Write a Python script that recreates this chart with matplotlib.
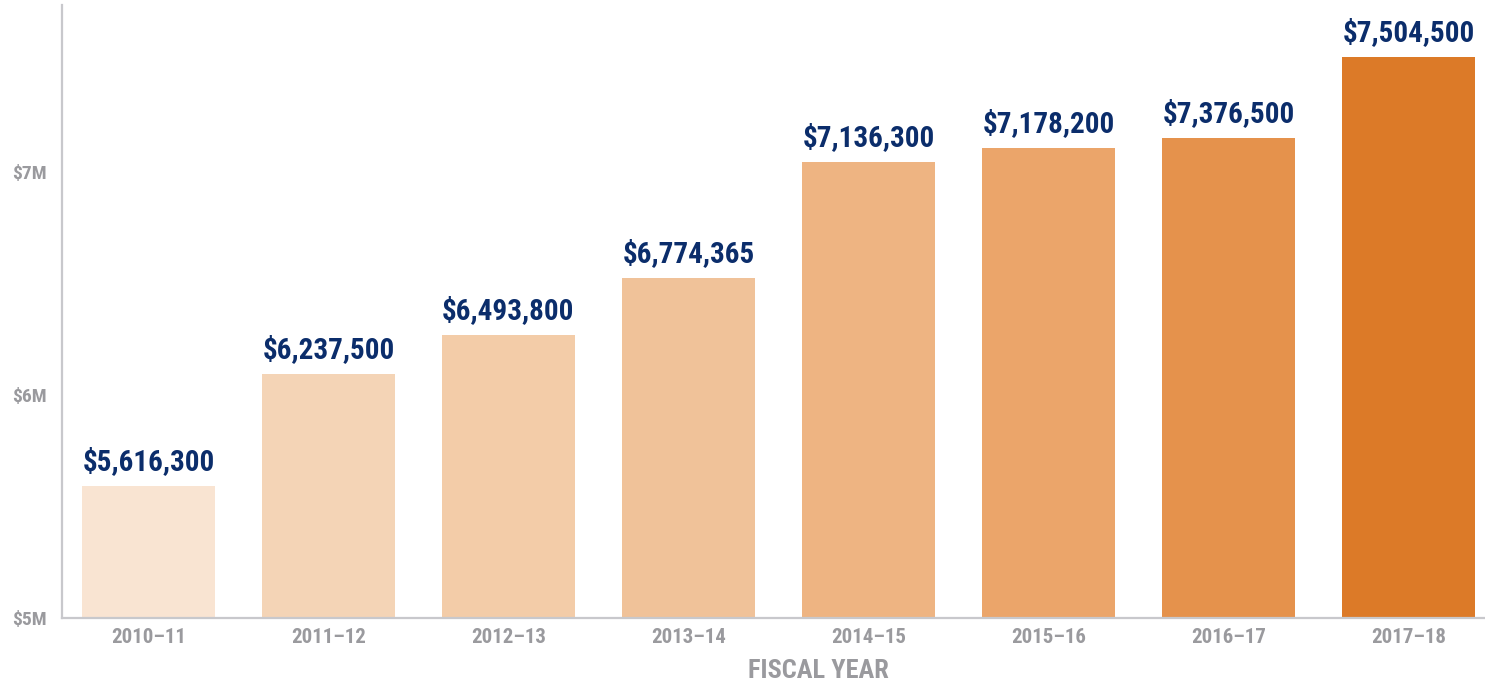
import matplotlib
matplotlib.use("Agg")
import matplotlib.pyplot as plt
from matplotlib import font_manager

years = ["2010–11", "2011–12", "2012–13", "2013–14", "2014–15", "2015–16", "2016–17", "2017–18"]
# bar heights as drawn in the picture (millions)
bar_heights = [5.592, 6.094, 6.269, 6.525, 7.045, 7.108, 7.152, 7.516]
# printed value labels
label_values = [5616300, 6237500, 6493800, 6774365, 7136300, 7178200, 7376500, 7504500]
bar_colors = ["#F9E4D2", "#F4D4B6", "#F3CCA8", "#F0C299", "#EEB482", "#EBA56A", "#E5924C", "#DC7A28"]
yticks = [5, 6, 7]
ytick_labels = ["$5M", "$6M", "$7M"]

names = {f.name for f in font_manager.fontManager.ttflist}
fam = [f for f in ["Liberation Sans Narrow", "Roboto Condensed", "Liberation Sans"] if f in names] + ["DejaVu Sans"]
plt.rcParams["font.family"] = fam

W, H = 1485, 682
fig = plt.figure(figsize=(W / 100, H / 100), dpi=100)
ax = fig.add_axes([62 / W, (H - 618) / H, 1 - 62 / W, (618 - 5) / H])

x = list(range(len(years)))
ax.bar(x, [h - 5 for h in bar_heights], bottom=5, width=0.74, color=bar_colors, zorder=2)

for xi, h, v in zip(x, bar_heights, label_values):
    ax.annotate(f"${v:,}", (xi, h), xytext=(0, 7), textcoords="offset points",
                ha="center", va="bottom", fontsize=21, fontweight="heavy", color="#0B2D6B")

ax.set_xlim(-0.48, 7.425)
ax.set_ylim(5, 5 + (618 - 5) / 223)
ax.set_xticks(x)
ax.set_xticklabels(years, fontsize=15, fontweight="bold", color="#9A9A9E")
ax.set_yticks(yticks)
ax.set_yticklabels(ytick_labels, fontsize=14, fontweight="bold", color="#9A9A9E")
ax.tick_params(axis="both", length=0)
ax.tick_params(axis="x", pad=7)
ax.tick_params(axis="y", pad=11)

for s in ["top", "right"]:
    ax.spines[s].set_visible(False)
for s in ["left", "bottom"]:
    ax.spines[s].set_color("#C8C8CC")
    ax.spines[s].set_linewidth(1.6)

fig.text(818 / W, 1 - 671 / H, "FISCAL YEAR", ha="center", va="center",
         fontsize=19, fontweight="bold", color="#9A9A9E")

fig.savefig("out.png", dpi=100)
